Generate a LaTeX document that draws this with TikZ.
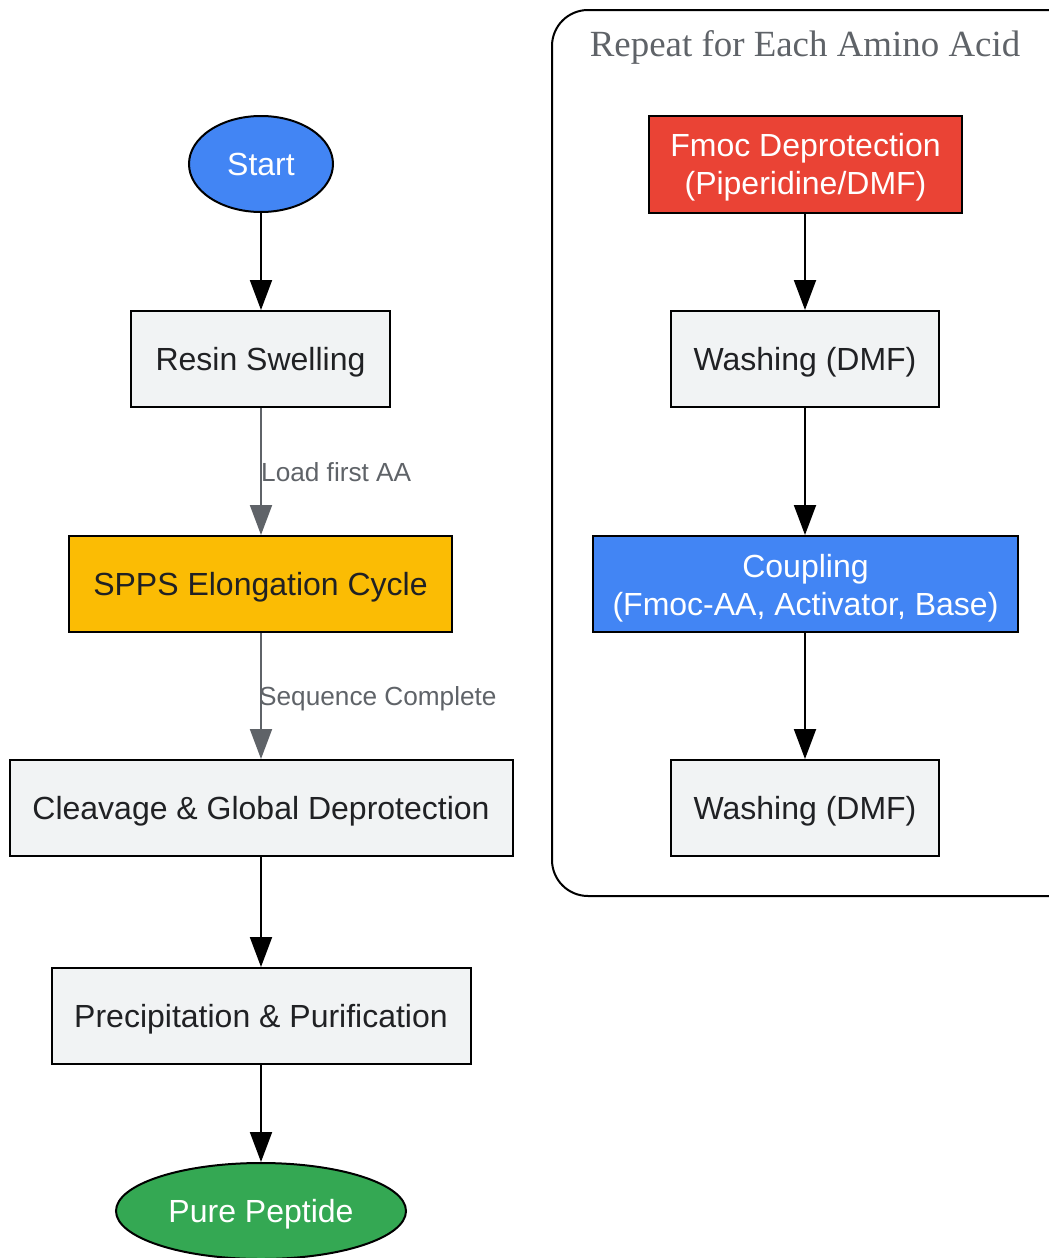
\documentclass[tikz,border=0pt]{standalone}
\usepackage{fontspec}
\setmainfont{Liberation Sans}
\newfontfamily\titlefont{Liberation Serif}
\usetikzlibrary{shapes.geometric,arrows.meta}
\definecolor{gfill}{HTML}{F1F3F4}
\definecolor{gtext}{HTML}{202124}
\definecolor{glabel}{HTML}{5F6368}
\definecolor{gblue}{HTML}{4285F4}
\definecolor{gred}{HTML}{EA4335}
\definecolor{gyellow}{HTML}{FBBC04}
\definecolor{ggreen}{HTML}{34A853}
\newcommand{\lowtxt}[2][4pt]{\raisebox{-#1}[\height][\depth]{\begin{tabular}{@{}c@{}}#2\end{tabular}}}
\begin{document}
\begin{tikzpicture}[x=1pt,y=-1pt,
  box/.style={draw=black,line width=2pt,fill=gfill,text=gtext,inner sep=0pt,
    minimum height=96pt,font=\fontsize{32}{38}\selectfont},
  oval/.style={ellipse,draw=black,line width=2pt,inner sep=0pt,text=white,
    minimum height=96pt,font=\fontsize{32}{38}\selectfont},
  arr/.style={line width=2pt,draw=black,-{Triangle[length=30pt,width=22pt]}},
  garr/.style={line width=2pt,draw=glabel,-{Triangle[length=30pt,width=22pt]}},
  elabel/.style={text=glabel,font=\fontsize{26.2}{30}\selectfont,inner sep=0pt,anchor=west}
]
\useasboundingbox (0,0) rectangle (1049,1258);
\clip (0,0) rectangle (1049,1258);
% cluster
\draw[line width=2pt,rounded corners=36pt] (552,10) rectangle (1085,896);
\node[text=glabel,font=\titlefont\fontsize{36.9}{44}\selectfont,inner sep=0pt] (ctitle) at (805,47) {Repeat for Each Amino Acid};
% left column
\node[oval,fill=gblue,minimum width=144pt] (start) at (261,164) {\lowtxt[4pt]{Start}};
\node[box,minimum width=259pt] (resin) at (260.5,359) {\lowtxt{Resin Swelling}};
\node[box,fill=gyellow,minimum width=383pt] (spps) at (260.5,584) {\lowtxt{SPPS Elongation Cycle}};
\node[box,minimum width=503pt] (cleave) at (261,808) {\lowtxt{Cleavage \& Global Deprotection}};
\node[box,minimum width=419pt] (precip) at (261,1016) {\lowtxt{Precipitation \& Purification}};
\node[oval,fill=ggreen,minimum width=290pt] (pure) at (261,1211) {\lowtxt{Pure Peptide}};
% right column
\node[box,fill=gred,text=white,minimum width=313pt,minimum height=97pt] (fmoc) at (805.5,164) {\lowtxt{Fmoc Deprotection\\(Piperidine/DMF)}};
\node[box,minimum width=268pt] (wash1) at (805,359) {\lowtxt{Washing (DMF)}};
\node[box,fill=gblue,text=white,minimum width=425pt] (coup) at (805.5,584) {\lowtxt[5pt]{Coupling\\(Fmoc-AA, Activator, Base)}};
\node[box,minimum width=268pt] (wash2) at (805,808) {\lowtxt{Washing (DMF)}};
% edges
\draw[arr] (start) -- (start|-resin.north);
\draw[garr] (resin.south-|start) -- (start|-spps.north);
\node[elabel] (l1) at (261,472) {Load first AA};
\draw[garr] (spps.south-|start) -- (start|-cleave.north);
\node[elabel] (l2) at (259,699) {Sequence Complete};
\draw[arr] (cleave) -- (start|-precip.north);
\draw[arr] (precip) -- (pure);
\draw[arr] (fmoc.south-|wash1) -- (wash1);
\draw[arr] (wash1) -- (wash1|-coup.north);
\draw[arr] (coup.south-|wash1) -- (wash2);
\end{tikzpicture}
\end{document}
